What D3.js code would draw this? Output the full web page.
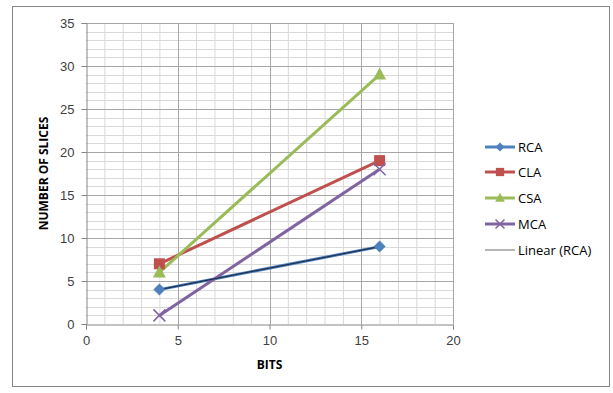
<!DOCTYPE html>
<html>
<head>
<meta charset="utf-8">
<script src="https://cdn.jsdelivr.net/npm/d3@7"></script>
<style>
  html, body { margin: 0; padding: 0; background: #fff; }
  svg { display: block; font-family: "Open Sans", "Liberation Sans", sans-serif; }
</style>
</head>
<body>
<svg id="chart" width="613" height="393"></svg>
<script>
// Bit widths and slice counts for each adder design
const bits = [4, 16];
const rca = [4, 9];
const cla = [7, 19];
const csa = [6, 29];
const mca = [1, 18];
const xTicks = [0, 5, 10, 15, 20];
const yTicks = [0, 5, 10, 15, 20, 25, 30, 35];

const seriesList = [
  { name: "RCA", values: rca, color: "#4F81BD", marker: "diamond" },
  { name: "CLA", values: cla, color: "#C0504D", marker: "square" },
  { name: "CSA", values: csa, color: "#9BBB59", marker: "triangle" },
  { name: "MCA", values: mca, color: "#8064A2", marker: "cross" }
];

const svg = d3.select("#chart");
const plot = { left: 86, right: 453, top: 23, bottom: 324 };

const x = d3.scaleLinear().domain([0, 20]).range([plot.left, plot.right]);
const y = d3.scaleLinear().domain([0, 35]).range([plot.bottom, plot.top]);

// Outer chart frame
svg.append("rect")
  .attr("x", 12.5).attr("y", 6.5).attr("width", 597).attr("height", 380)
  .attr("fill", "#fff").attr("stroke", "#868686").attr("stroke-width", 1);

// Minor gridlines (every unit)
const grid = svg.append("g");
d3.range(1, 20).filter(v => v % 5 !== 0).forEach(v => {
  grid.append("line")
    .attr("x1", x(v) + 0.5).attr("x2", x(v) + 0.5)
    .attr("y1", plot.top).attr("y2", plot.bottom)
    .attr("stroke", "#D9D9D9").attr("stroke-width", 1);
});
d3.range(1, 35).filter(v => v % 5 !== 0).forEach(v => {
  grid.append("line")
    .attr("x1", plot.left).attr("x2", plot.right)
    .attr("y1", Math.round(y(v)) + 0.5).attr("y2", Math.round(y(v)) + 0.5)
    .attr("stroke", "#D9D9D9").attr("stroke-width", 1);
});
// Major gridlines
xTicks.filter(v => v > 0).forEach(v => {
  grid.append("line")
    .attr("x1", Math.round(x(v)) + 0.5).attr("x2", Math.round(x(v)) + 0.5)
    .attr("y1", plot.top).attr("y2", plot.bottom)
    .attr("stroke", "#A6A6A6").attr("stroke-width", 1);
});
yTicks.filter(v => v > 0).forEach(v => {
  grid.append("line")
    .attr("x1", plot.left).attr("x2", plot.right)
    .attr("y1", Math.round(y(v)) + 0.5).attr("y2", Math.round(y(v)) + 0.5)
    .attr("stroke", "#A6A6A6").attr("stroke-width", 1);
});

// Axes
const xAxis = svg.append("g")
  .attr("transform", `translate(0,${plot.bottom + 0.5})`)
  .call(d3.axisBottom(x).tickValues(xTicks).tickSize(5).tickPadding(6));
const yAxis = svg.append("g")
  .attr("transform", `translate(${plot.left + 0.5},0)`)
  .call(d3.axisLeft(y).tickValues(yTicks).tickSize(5).tickPadding(7));
[xAxis, yAxis].forEach(a => {
  a.selectAll(".domain").attr("stroke", "#868686");
  a.selectAll(".tick line").attr("stroke", "#868686");
  a.selectAll(".tick text").attr("fill", "#404040").style("font-size", "13px");
});

// Axis titles
svg.append("text")
  .attr("x", x(10)).attr("y", 369)
  .attr("text-anchor", "middle")
  .style("font-size", "12px").style("font-weight", "bold").attr("fill", "#000")
  .text("BITS");
svg.append("text")
  .attr("transform", `translate(48,${(plot.top + plot.bottom) / 2}) rotate(-90)`)
  .attr("text-anchor", "middle")
  .style("font-size", "12px").style("font-weight", "bold").attr("fill", "#000")
  .text("NUMBER OF SLICES");

// Marker shapes
function drawMarker(g, type, cx, cy, color, size) {
  const s = size || 1;
  if (type === "diamond") {
    g.append("path")
      .attr("d", `M${cx},${cy - 6 * s}L${cx + 6 * s},${cy}L${cx},${cy + 6 * s}L${cx - 6 * s},${cy}Z`)
      .attr("fill", color);
  } else if (type === "square") {
    g.append("rect")
      .attr("x", cx - 5.5 * s).attr("y", cy - 5.5 * s)
      .attr("width", 11 * s).attr("height", 11 * s).attr("fill", color);
  } else if (type === "triangle") {
    g.append("path")
      .attr("d", `M${cx},${cy - 7 * s}L${cx + 6.5 * s},${cy + 5 * s}L${cx - 6.5 * s},${cy + 5 * s}Z`)
      .attr("fill", color);
  } else if (type === "cross") {
    g.append("path")
      .attr("d", `M${cx - 6 * s},${cy - 6 * s}L${cx + 6 * s},${cy + 6 * s}M${cx + 6 * s},${cy - 6 * s}L${cx - 6 * s},${cy + 6 * s}`)
      .attr("stroke", color).attr("stroke-width", 1.5).attr("fill", "none");
  }
}

const line = d3.line().x(d => x(d[0])).y(d => y(d[1]));

// Series lines and markers
const marks = svg.append("g");
seriesList.forEach(s => {
  const pts = bits.map((b, i) => [b, s.values[i]]);
  marks.append("path")
    .datum(pts)
    .attr("d", line)
    .attr("fill", "none")
    .attr("stroke", s.color)
    .attr("stroke-width", 3);
});

// Linear trendline fitted to RCA
const n = bits.length;
const mx = d3.mean(bits), my = d3.mean(rca);
const slope = d3.sum(bits.map((b, i) => (b - mx) * (rca[i] - my))) / d3.sum(bits.map(b => (b - mx) ** 2));
const intercept = my - slope * mx;
marks.append("path")
  .datum(bits.map(b => [b, slope * b + intercept]))
  .attr("d", line)
  .attr("fill", "none")
  .attr("stroke", "#1F2F4F")
  .attr("stroke-width", 1.2);

seriesList.forEach(s => {
  bits.forEach((b, i) => drawMarker(marks, s.marker, x(b), y(s.values[i]), s.color, 1));
});

// Legend
const legend = svg.append("g");
const legendRows = seriesList.map(s => ({ name: s.name, color: s.color, marker: s.marker, width: 3 }))
  .concat([{ name: "Linear (RCA)", color: "#868686", marker: null, width: 1.2 }]);
const rowY = [147, 172, 198, 224, 250];
legendRows.forEach((r, i) => {
  const ly = rowY[i];
  legend.append("line")
    .attr("x1", 485).attr("x2", 515).attr("y1", ly).attr("y2", ly)
    .attr("stroke", r.color).attr("stroke-width", r.width);
  if (r.marker) drawMarker(legend, r.marker, 500, ly, r.color, 0.75);
  legend.append("text")
    .attr("x", 518).attr("y", ly + 4.5)
    .style("font-size", "13px").attr("fill", "#000")
    .text(r.name);
});
</script>
</body>
</html>
